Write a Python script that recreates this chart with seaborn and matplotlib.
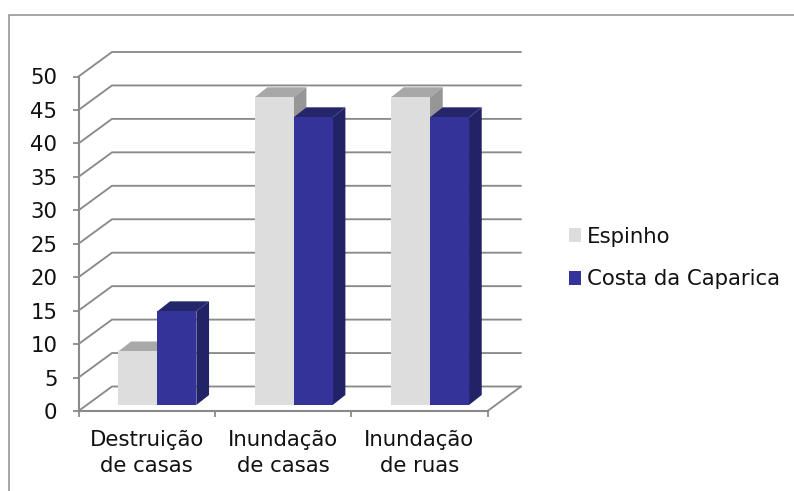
import matplotlib
matplotlib.use("Agg")
import matplotlib.pyplot as plt
import pandas as pd
import seaborn as sns
from matplotlib.lines import Line2D
from matplotlib.patches import Polygon

categories = ["Destruição\nde casas", "Inundação\nde casas", "Inundação\nde ruas"]
espinho = [8, 46, 46]
costa = [14, 43, 43]
series_names = ["Espinho", "Costa da Caparica"]
y_ticks = list(range(0, 55, 5))

W, H = 794, 491
GRID = "#8A8A8A"
FRONT = {"Espinho": "#DDDDDD", "Costa da Caparica": "#333399"}
TOP = {"Espinho": "#A8A8A8", "Costa da Caparica": "#25256B"}
SIDE = {"Espinho": "#969696", "Costa da Caparica": "#222266"}
FS = 15.3

df = pd.DataFrame({
    "cat": categories * 2,
    "val": espinho + costa,
    "serie": [series_names[0]] * 3 + [series_names[1]] * 3,
})

sns.set_theme(style="white")
plt.rcParams["font.family"] = ["DejaVu Sans"]
plt.rcParams["text.color"] = "#111111"
fig = plt.figure(figsize=(W / 100, H / 100), dpi=100, facecolor="white")


def box(l, t, r, b):
    return [l / W, 1 - b / H, (r - l) / W, (b - t) / H]


# Front plane: axis lines, ticks, labels
L, R, T, B = 78.5, 487.5, 76.5, 411.0
ax = fig.add_axes(box(L, T, R, B), zorder=1)
ax.patch.set_alpha(0)
ax.set_xlim(0, 3)
ax.set_ylim(0, 50)
ax.set_yticks(y_ticks)
ax.set_xticks(range(4))
ax.set_xticklabels([])
ax.set_xticks([0.5, 1.5, 2.5], minor=True)
ax.set_xticklabels(categories, minor=True, fontsize=FS, color="#111111", linespacing=1.37)
ax.tick_params(axis="x", which="minor", length=0, pad=13.5)
ax.tick_params(axis="x", which="major", length=4.2, width=1.3, color=GRID, bottom=True)
ax.tick_params(axis="y", length=4.2, width=1.3, color=GRID, left=True, labelsize=FS, pad=11.0,
               labelcolor="#111111")
for s in ("top", "right"):
    ax.spines[s].set_visible(False)
for s in ("left", "bottom"):
    ax.spines[s].set_color(GRID)
    ax.spines[s].set_linewidth(1.5)

# Walls and floor, as grid lines receding from the front plane
px_x = (R - L) / 3
px_y = (B - T) / 50
dx, dy = 33.5 / px_x, 24.5 / px_y
for v in y_ticks:
    ax.plot([0, dx, 3 + dx], [v, v + dy, v + dy], color=GRID, lw=1.35, clip_on=False,
            solid_joinstyle="miter", zorder=1)
ax.plot([3, 3 + dx], [0, dy], color=GRID, lw=1.35, clip_on=False, zorder=1)

# Bar plane, set back from the front plane
OX, OY = 10.7, 6.0
bx = fig.add_axes(box(L + OX, T - OY, R + OX, B - OY), zorder=2)
bx.patch.set_alpha(0)
sns.barplot(data=df, x="cat", y="val", hue="serie", hue_order=series_names, order=categories,
            palette=FRONT, width=0.572, gap=0, dodge=True, saturation=1, errorbar=None,
            linewidth=0, ax=bx)
bx.set_xlim(-0.5, 2.5)
bx.set_ylim(0, 50)
bx.axis("off")

# Depth faces computed from the bars seaborn drew
ddx, ddy = 12.7 / px_x, 10.0 / px_y
for i, (name, cont) in enumerate(zip(series_names, bx.containers)):
    for bar in cont:
        x0, x1, h = bar.get_x(), bar.get_x() + bar.get_width(), bar.get_height()
        z = 3 + 2 * i
        bar.set_zorder(z + 1)
        bx.add_patch(Polygon([(x0, h), (x1, h), (x1 + ddx, h + ddy), (x0 + ddx, h + ddy)],
                             closed=True, fc=TOP[name], ec="none", clip_on=False, zorder=z))
        bx.add_patch(Polygon([(x1, 0), (x1 + ddx, ddy), (x1 + ddx, h + ddy), (x1, h)],
                             closed=True, fc=SIDE[name], ec="none", clip_on=False, zorder=z))

# Legend
sns.move_legend(bx, "center left", bbox_to_anchor=(569 / W, 1 - 258 / H),
                bbox_transform=fig.transFigure, title=None, frameon=False, fontsize=FS,
                handlelength=0.57, handleheight=0.57, handletextpad=0.28, labelspacing=1.08,
                borderpad=0, borderaxespad=0)

# Chart frame: only its left and top edges fall inside the picture
fx, fy = 8.5 / W, 1 - 14.5 / H
fig.add_artist(Line2D([fx, fx, 1], [0, fy, fy], color="#8E8E8E", lw=1.1, solid_joinstyle="miter"))

fig.savefig("out.png", dpi=100)
